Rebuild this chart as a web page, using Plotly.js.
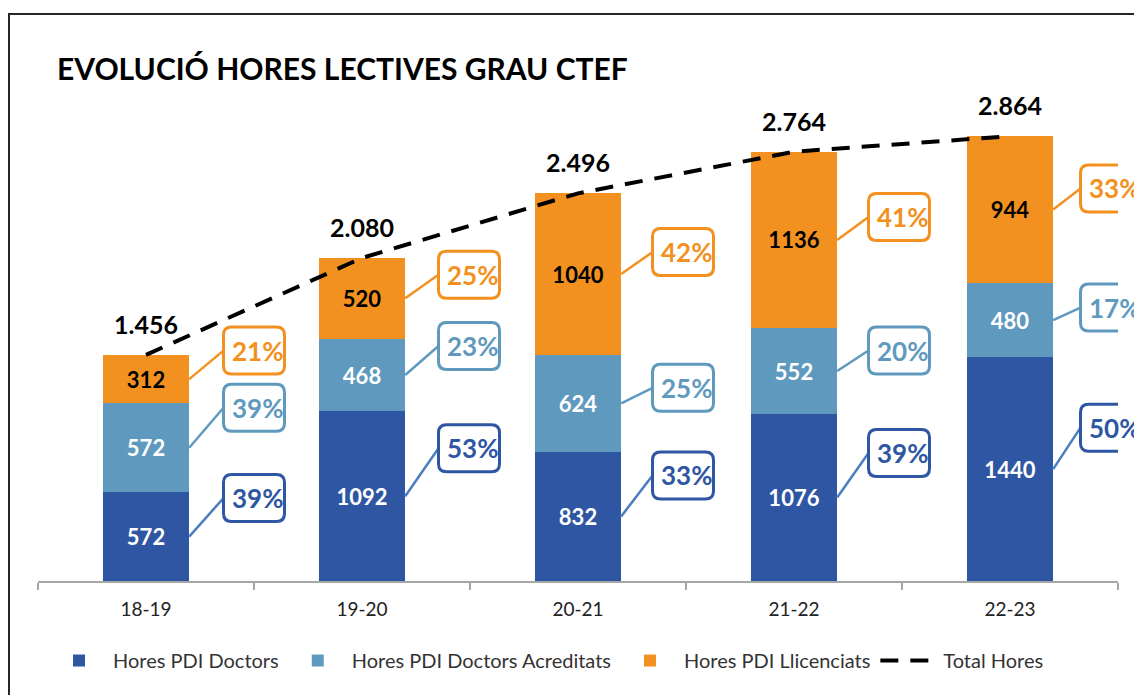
<!DOCTYPE html>
<html>
<head>
<meta charset="utf-8">
<script src="https://cdn.plot.ly/plotly-3.0.1.min.js"></script>
<style>
  html, body { margin: 0; padding: 0; background: #ffffff; }
  #chart { width: 1134px; height: 695px; }
</style>
</head>
<body>
<div id="chart"></div>
<script>
// ---- data ----
const categories = ['18-19', '19-20', '20-21', '21-22', '22-23'];
const doctors = [572, 1092, 832, 1076, 1440];
const acreditats = [572, 468, 624, 552, 480];
const llicenciats = [312, 520, 1040, 1136, 944];
const totals = [1456, 2080, 2496, 2764, 2864];
const pctDoctors = [39, 53, 33, 39, 50];
const pctAcreditats = [39, 23, 25, 20, 17];
const pctLlicenciats = [21, 25, 42, 41, 33];
const seriesNames = ['Hores PDI Doctors', 'Hores PDI Doctors Acreditats', 'Hores PDI Llicenciats', 'Total Hores'];
const titleText = 'EVOLUCIÓ HORES LECTIVES GRAU CTEF';

// ---- styling / label placement (pixels) ----
const colDoctors = '#2F56A3';
const colAcred = '#5F9ABE';
const colLlic = '#F29120';
const colDoctorsLeader = '#4A7EC0';
const boxDx = [108, 107, 105, 105, 101];        // box centre from category centre
const boxUpDoctors = [38.5, 48, 41, 44.5, 41.5]; // box centre above segment centre
const boxUpAcred = [40, 29, 15.5, 20.5, 12.5];
const boxUpLlic = [28.5, 23.5, 22, 23, 21];
const BOX_W = 61, BOX_H = 47, BOX_R = 8, BAR_HALF = 43.2;
const FONT = 'Lato, "Open Sans", sans-serif';

function fmtThousands(v) {
  return String(v).replace(/\B(?=(\d{3})+(?!\d))/g, '.');
}
function rrect(cx, cy, w, h, r) {
  const x0 = cx - w / 2, x1 = cx + w / 2, y0 = cy - h / 2, y1 = cy + h / 2;
  return `M${x0 + r},${y0} L${x1 - r},${y0} Q${x1},${y0} ${x1},${y0 + r} ` +
         `L${x1},${y1 - r} Q${x1},${y1} ${x1 - r},${y1} L${x0 + r},${y1} ` +
         `Q${x0},${y1} ${x0},${y1 - r} L${x0},${y0 + r} Q${x0},${y0} ${x0 + r},${y0} Z`;
}

function barTrace(name, vals, color, textColor) {
  return {
    type: 'bar', name: name, x: categories, y: vals,
    marker: { color: color, line: { width: 0 } },
    text: vals.map(String), texttemplate: '%{text}',
    textposition: 'inside', insidetextanchor: 'middle', textangle: 0,
    constraintext: 'none',
    textfont: { family: FONT, size: 22, color: textColor, weight: 'bold' },
    hoverinfo: 'skip'
  };
}

const traces = [
  barTrace(seriesNames[0], doctors, colDoctors, '#ffffff'),
  barTrace(seriesNames[1], acreditats, colAcred, '#ffffff'),
  barTrace(seriesNames[2], llicenciats, colLlic, '#000000'),
  {
    type: 'scatter', mode: 'lines', name: seriesNames[3],
    x: categories, y: totals,
    line: { color: '#000000', width: 4, dash: '18px,12px' },
    hoverinfo: 'skip'
  }
];

const shapes = [];
const annotations = [];

// callouts
function addCallouts(vals, bases, pcts, ups, color, leaderColor) {
  vals.forEach((v, i) => {
    const mid = bases[i] + v / 2;
    const cx = boxDx[i], cy = ups[i];
    shapes.push({
      type: 'path', xref: 'x', yref: 'y', xsizemode: 'pixel', ysizemode: 'pixel',
      xanchor: i, yanchor: mid,
      path: `M${BAR_HALF},0 L${cx - BOX_W / 2},${cy}`,
      line: { color: leaderColor, width: 2.5 }, layer: 'above'
    });
    shapes.push({
      type: 'path', xref: 'x', yref: 'y', xsizemode: 'pixel', ysizemode: 'pixel',
      xanchor: i, yanchor: mid,
      path: rrect(cx, cy, BOX_W, BOX_H, BOX_R),
      line: { color: color, width: 3 }, fillcolor: '#ffffff', layer: 'above'
    });
    annotations.push({
      x: i, y: mid, xref: 'x', yref: 'y', xshift: cx + 3, yshift: cy,
      text: pcts[i] + '%', showarrow: false,
      font: { family: FONT, size: 26, color: color, weight: 'bold' }
    });
  });
}
const zeros = doctors.map(() => 0);
const baseAcred = doctors.slice();
const baseLlic = doctors.map((d, i) => d + acreditats[i]);
addCallouts(doctors, zeros, pctDoctors, boxUpDoctors, colDoctors, colDoctorsLeader);
addCallouts(acreditats, baseAcred, pctAcreditats, boxUpAcred, colAcred, colAcred);
addCallouts(llicenciats, baseLlic, pctLlicenciats, boxUpLlic, colLlic, colLlic);

// totals
totals.forEach((t, i) => {
  annotations.push({
    x: i, y: t, xref: 'x', yref: 'y', yshift: 31, showarrow: false,
    text: fmtThousands(t),
    font: { family: FONT, size: 25, color: '#000000', weight: 'bold' }
  });
});

// outer frame
shapes.push({
  type: 'rect', xref: 'paper', yref: 'paper',
  x0: (9 - 38) / 1080, x1: 1.2, y0: -0.4, y1: (581 - 14) / 497,
  line: { color: '#262626', width: 2 }, fillcolor: 'rgba(0,0,0,0)', layer: 'below'
});

const layout = {
  width: 1134, height: 695,
  margin: { l: 38, r: 16, t: 84, b: 114, pad: 0 },
  paper_bgcolor: '#ffffff', plot_bgcolor: '#ffffff',
  barmode: 'stack', bargap: 0.6,
  title: {
    text: titleText, xref: 'container', yref: 'container',
    x: 57 / 1134, xanchor: 'left', y: 1 - 69 / 695, yanchor: 'middle',
    font: { family: FONT, size: 30, color: '#000000', weight: 'bold' }
  },
  xaxis: {
    type: 'category', tickson: 'boundaries', ticks: 'outside', ticklen: 7,
    tickcolor: '#A6A6A6', tickwidth: 2,
    showline: true, linecolor: '#A6A6A6', linewidth: 2,
    showgrid: false, zeroline: false, ticklabelstandoff: 10,
    tickfont: { family: FONT, size: 19, color: '#222222' },
    range: [-0.5, 4.5], fixedrange: true
  },
  yaxis: {
    range: [0, 3200], visible: false, showgrid: false, zeroline: false, fixedrange: true
  },
  showlegend: true,
  legend: {
    orientation: 'h', x: 7 / 1080, xanchor: 'left', y: -0.16, yanchor: 'middle',
    font: { family: FONT, size: 20, color: '#333333' },
    traceorder: 'normal', itemwidth: 58, bgcolor: 'rgba(0,0,0,0)'
  },
  shapes: shapes,
  annotations: annotations,
  hovermode: false
};

Plotly.newPlot('chart', traces, layout, { displayModeBar: false, staticPlot: true });
</script>
</body>
</html>
